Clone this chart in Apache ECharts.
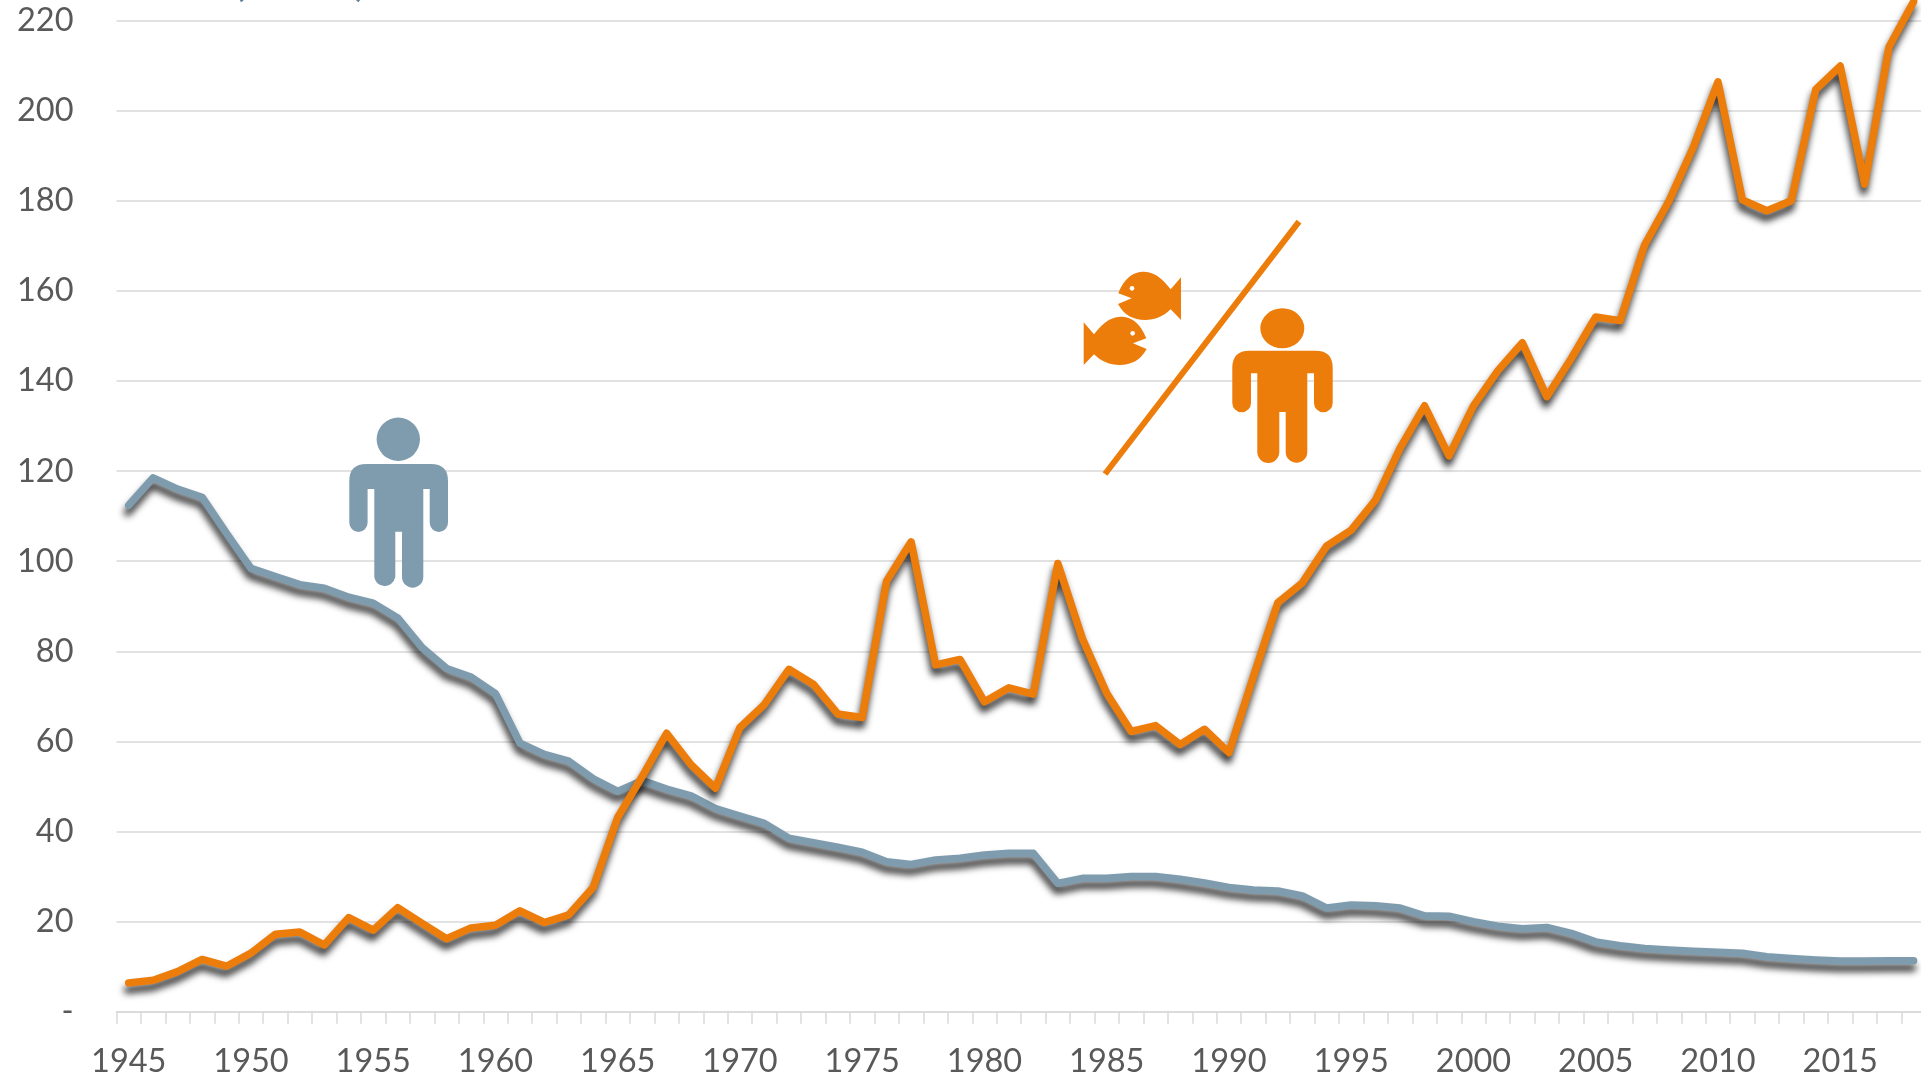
<!DOCTYPE html>
<html>
<head>
<meta charset="utf-8">
<style>html,body{margin:0;padding:0;background:#fff;overflow:hidden}#c{width:1921px;height:1081px}</style>
<script src="https://cdn.jsdelivr.net/npm/echarts@6/dist/echarts.min.js"></script>
</head>
<body>
<div id="c"></div>
<script>
const years = [];
for (let y = 1945; y <= 2018; y++) years.push(String(y));

const blueValues = [
  112.4,118.5,116,114.2,106.2,98.4,96.6,94.8,94,92,
  90.7,87.4,80.8,76.2,74.3,70.6,59.6,57.1,55.6,51.7,
  48.9,51.3,49.4,47.9,45.1,43.4,41.8,38.5,37.5,36.5,
  35.4,33.3,32.7,33.7,34.05,34.8,35.15,35.15,28.5,29.6,
  29.6,30,30,29.4,28.6,27.6,27,26.8,25.7,23,
  23.7,23.5,23,21.3,21.2,20,19,18.4,18.7,17.4,
  15.5,14.65,14.05,13.7,13.4,13.2,13,12.2,11.8,11.5,
  11.25,11.25,11.3,11.3
];
const orangeValues = [
  6.4,7,8.9,11.6,10.1,13,17.2,17.7,14.8,20.9,
  18.1,23.1,19.6,16.2,18.6,19.2,22.4,19.8,21.5,27.6,
  43.1,52.2,61.8,54.8,49.6,63.1,68.2,76,72.7,66.1,
  65.3,95.6,104.3,77,78.2,68.8,71.9,70.5,99.5,82.9,
  70.7,62.2,63.5,59.3,62.7,57.5,74.4,90.8,95.2,103.4,
  106.9,113.6,125.1,134.5,123.4,134.5,142.3,148.5,136.5,145,
  154.2,153.4,170.2,180,192,206.4,180.2,177.8,180,204.7,
  209.9,183.7,214.2,224.2
];

const BLUE = '#7F9CAE', ORANGE = '#ED7D0A', GRID = '#D9D9D9', TEXT = '#595959';
const FONT = 'Lato';

function personPath(p) {
  const {L,R,T,AT,AB,aw,tL,tR,gL,gR,GT,B,r,cx,cy,rx,ry} = p;
  const a = aw/2, lr = (tR-gR)/2;
  return `M${cx-rx} ${cy}A${rx} ${ry} 0 1 1 ${cx+rx} ${cy}A${rx} ${ry} 0 1 1 ${cx-rx} ${cy}Z`+
    `M${L+r} ${T}H${R-r}Q${R} ${T} ${R} ${T+r}V${AB-a}A${a} ${a} 0 0 1 ${R-aw} ${AB-a}V${AT}H${tR}`+
    `V${B-lr}A${lr} ${lr} 0 0 1 ${gR} ${B-lr}V${GT}H${gL}V${B-lr}A${lr} ${lr} 0 0 1 ${tL} ${B-lr}`+
    `V${AT}H${L+aw}V${AB-a}A${a} ${a} 0 0 1 ${L} ${AB-a}V${T+r}Q${L} ${T} ${L+r} ${T}Z`;
}
function iconShape(name, pathData, color) {
  echarts.graphic.registerShape(name, echarts.graphic.extendPath(pathData, {}));
  return {type:name, z:10, silent:true, style:{fill:color}};
}
// fish outline in a local 3x frame, mapped to pixels
function fish(name, flip) {
  const fx = x => 1050 + (flip ? 494 - x : x)/3;
  const fy = y => 200 + (flip ? y + 135 : y)/3;
  const P = (x,y) => fx(x).toFixed(2)+' '+fy(y).toFixed(2);
  const d = `M${P(205,280)}C${P(225,228)} ${P(255,215)} ${P(282,215)}C${P(318,215)} ${P(345,245)} ${P(362,268)}`+
    `L${P(393,232)}L${P(393,360)}L${P(362,328)}C${P(340,350)} ${P(315,360)} ${P(285,360)}`+
    `C${P(250,360)} ${P(222,345)} ${P(204,312)}L${P(245,295)}Z`;
  return [
    iconShape(name, d, ORANGE),
    {type:'circle', z:11, silent:true, shape:{cx:fx(246), cy:fy(265), r:2.3}, style:{fill:'#fff'}}
  ];
}

const chart = echarts.init(document.getElementById('c'), null, {renderer:'canvas', width:1921, height:1081});
const lineCommon = {
  type:'line', showSymbol:false, symbol:'none', smooth:false, animation:false, silent:true, clip:false
};
function style(color) {
  return {color, width:7.5, cap:'round', join:'round',
    shadowColor:'rgba(0,0,0,0.8)', shadowBlur:7, shadowOffsetX:-1, shadowOffsetY:7};
}
chart.setOption({
  animation:false,
  backgroundColor:'#fff',
  grid:{left:116.5, right:-4.8, top:-69.5, bottom:69.3, containLabel:false, outerBoundsMode:'none'},
  xAxis:{
    type:'category', data:years, boundaryGap:true,
    axisLine:{lineStyle:{color:GRID,width:1.5}},
    axisTick:{show:true,interval:0,length:12,lineStyle:{color:GRID,width:1.5}},
    axisLabel:{interval:4,color:TEXT,fontFamily:FONT,fontSize:32.5,margin:33,hideOverlap:false}
  },
  yAxis:{
    type:'value', min:0, max:240, interval:20,
    axisLine:{show:false}, axisTick:{show:false},
    splitLine:{lineStyle:{color:GRID,width:1.5}},
    axisLabel:{color:TEXT,fontFamily:FONT,fontSize:32.5,margin:43,showMaxLabel:false,
      formatter:v=>v===0?'-':String(v)}
  },
  series:[
    Object.assign({},lineCommon,{name:'blue',data:blueValues,z:3,lineStyle:style(BLUE)}),
    Object.assign({},lineCommon,{name:'orange',data:orangeValues,z:4,lineStyle:style(ORANGE)})
  ],
  graphic:[
    iconShape('personBlue', personPath({L:349.3,R:448,T:464,AT:489,AB:532,aw:18.3,tL:374.3,tR:423.3,gL:395.3,gR:402,GT:531.7,B:587.7,r:17,cx:398.3,cy:439.3,rx:21.7,ry:21.7}), BLUE),
    iconShape('personOrange', personPath({L:1232.3,R:1332.7,T:350.7,AT:373.3,AB:412.3,aw:18.7,tL:1257.3,tR:1307.3,gL:1279.3,gR:1285.7,GT:412,B:462.7,r:17,cx:1282.3,cy:328.3,rx:22,ry:20}), ORANGE),
    {type:'line', z:10, silent:true, shape:{x1:1105,y1:474,x2:1299,y2:221.7}, style:{stroke:ORANGE,lineWidth:6}},
    ...fish('fishUpper', false), ...fish('fishLower', true),
    {type:'text', z:10, silent:true, x:240, y:3, style:{text:'(',fill:'#5B7F95',font:'bold 32px Lato',textAlign:'center',textVerticalAlign:'bottom'}},
    {type:'text', z:10, silent:true, x:360, y:3, style:{text:')',fill:'#5B7F95',font:'bold 32px Lato',textAlign:'center',textVerticalAlign:'bottom'}}
  ]
});
</script>
</body>
</html>
